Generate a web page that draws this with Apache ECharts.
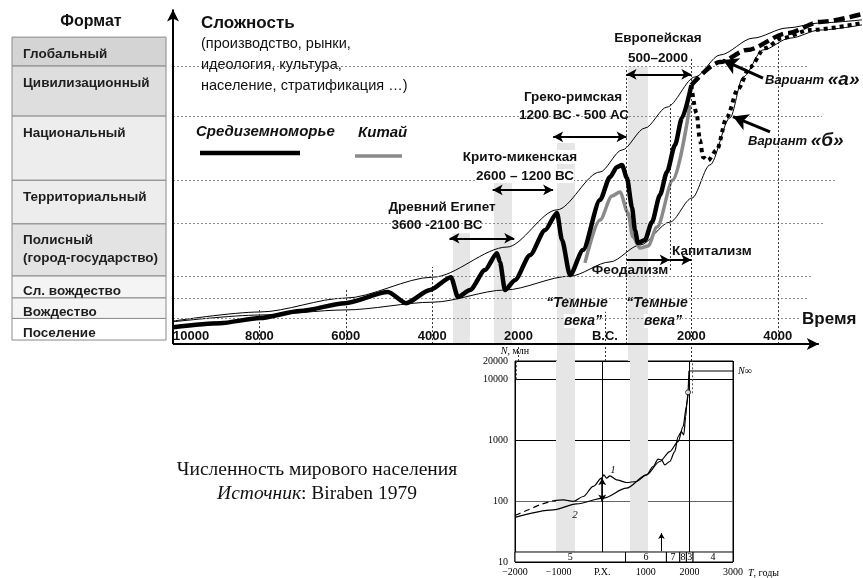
<!DOCTYPE html>
<html lang="ru">
<head>
<meta charset="utf-8">
<title>Сложность и формат</title>
<script src="https://cdn.jsdelivr.net/npm/echarts@6/dist/echarts.min.js"></script>
<style>
  html, body { margin: 0; padding: 0; background: #fff; }
  #chart { width: 863px; height: 578px; }
</style>
</head>
<body>
<div id="chart"></div>
<script>
// Формат (уровни сложности), снизу вверх
var levelNames = ['Поселение', 'Вождество', 'Сл. вождество', 'Полисный\n(город-государство)',
    'Территориальный', 'Национальный', 'Цивилизационный', 'Глобальный'];
var levelBounds = [1.2, 7.6, 13.7, 20.2, 35.6, 48.5, 67.5, 82.3, 90.8];
var levelColors = ['#ffffff', '#f4f4f4', '#f4f4f4', '#e3e3e3', '#ededed', '#ededed', '#dedede', '#d4d4d4'];
// докуда доходит пунктир уровня (год)
var levelLineEnd = [4514, 4699, 4815, 5093, 5370, 5023, 4699];

// [год (до н.э. со знаком минус), сложность]
var medData = [[-10000, 5.0], [-8913, 6.2], [-7987, 7.7], [-7061, 9.8], [-6019, 12.1], [-5024, 15.4],
    [-4607, 12.1], [-4051, 16.0], [-3565, 19.8], [-3403, 13.9], [-3125, 16.0], [-2778, 21.9],
    [-2500, 26.9], [-2431, 24.3], [-2315, 16.0], [-2084, 18.9], [-1736, 26.3], [-1389, 33.7],
    [-1111, 38.8], [-995, 30.8], [-810, 20.4], [-509, 27.8], [-116, 42.6], [116, 49.4], [278, 52.4],
    [394, 53.0], [509, 49.1], [625, 40.5], [695, 33.7], [764, 29.9], [926, 30.8], [1088, 36.1],
    [1273, 44.1], [1435, 50.9], [1621, 58.9], [1783, 66.9], [2000, 76.6]];
var chinaData = [[-463, 24.0], [-116, 36.7], [162, 43.8], [347, 45.0], [532, 38.8], [648, 31.7],
    [810, 28.4], [995, 29.0], [1204, 34.6], [1574, 48.5], [1968, 70.7]];
var upperData = [[-10000, 6.8], [-7987, 9.5], [-6019, 13.6], [-3982, 19.8], [-2269, 28.7], [-1111, 39.7],
    [-116, 50.9], [394, 57.4], [926, 63.9], [1435, 70.1], [2084, 79.0], [2662, 85.5], [3426, 90.5],
    [4213, 93.5], [4977, 95.0], [5950, 95.9]];
var lowerData = [[-10000, 6.6], [-7987, 8.6], [-6019, 10.1], [-3982, 12.4], [-2315, 16.0], [-810, 20.1],
    [116, 24.3], [810, 29.3], [1505, 36.1], [2014, 43.2], [2431, 53.0], [2894, 66.9], [3195, 79.0],
    [3657, 87.0], [4283, 90.5], [4977, 92.9], [5950, 94.4]];
var variantA = [[2000, 76.6], [2662, 83.4], [3287, 87.0], [4213, 91.9], [4977, 95.3], [5950, 97.6]];
var variantB = [[2000, 76.6], [2120, 68.3], [2199, 60.3], [2269, 55.3], [2384, 54.3], [2586, 57.4],
    [2824, 67.2], [3080, 75.5], [3357, 81.9], [3700, 87.5], [4100, 90.5], [4746, 92.9], [5950, 95.0]];

// цивилизации: [начало, конец, уровень стрелки]
var eras = [[-3600, -2100, 31.3], [-2600, -1200, 45.6], [-1200, 500, 61.3], [500, 2000, 79.8]];
// формации (стрелка в одну сторону)
var formations = [[500, 1500, 24.9], [1500, 2000, 24.9]];
// переходные периоды: [от, до, низ, верх]
var bands = [[-3519, -3125, 0, 32.8], [-2570, -2153, 0, 47.9], [-1111, -695, -5, 59.5], [532, 995, -5, 82.0]];
// вертикальные пунктиры: [год, от, до]
var guides = [[-8000, 0, 10.4], [-6000, 0, 16.0], [-4000, 0, 22.8], [-2000, -5, 0], [0, -5, 9.6],
    [500, 0, 81.7], [1500, 21.9, 71.3], [2000, -5, 84.9], [4000, 0, 90.0]];
// стрелки к вариантам: [хвост, острие]
var pointers = [[[3658, 78.7], [2732, 84.0]], [[3820, 62.8], [2963, 67.3]]];

// врезка: численность населения мира, млн (Biraben 1979)
var popDashed = [[-2000, 58], [-1695, 72], [-1427, 87], [-1122, 102]];
var popCurve1 = [[-1122, 102], [-893, 105], [-664, 99], [-435, 119], [-206, 174], [-15, 238], [38, 270],
    [99, 238], [176, 260], [328, 224], [557, 202], [786, 210], [1015, 270], [1168, 370], [1283, 489],
    [1359, 477], [1435, 394], [1550, 447], [1664, 652], [1741, 1148], [1817, 1387], [1870, 1223],
    [1916, 2443], [1947, 4573], [1970, 6120]];
var popCurve2 = [[-2000, 54], [-1122, 72], [-588, 90], [23, 112], [557, 163], [1015, 270], [1321, 447],
    [1550, 652], [1741, 950], [1855, 1675], [1931, 3565], [1970, 6120]];
var popLimit = [[1970, 6120], [1990, 13700], [3000, 13700]];
var popBands = [[-1060, -624], [638, 1050]];
var epochs = [[-2000, 535, '5'], [535, 1473, '6'], [1473, 1779, '7'], [1779, 1931, '8'], [1931, 2084, '3'], [2084, 3000, '4']];

var SANS = '"Liberation Sans", Arial, sans-serif';
var SERIF = '"Liberation Serif", "Times New Roman", serif';

var chart = echarts.init(document.getElementById('chart'));

function curve(data, style, z, smooth) {
    return {
        type: 'line', xAxisIndex: 0, yAxisIndex: 0, data: data, symbol: 'none',
        smooth: smooth, smoothMonotone: 'x', clip: false, silent: true, z: z,
        lineStyle: style
    };
}
function lines(data, style, symbol, size, xi, z) {
    return {
        type: 'line', xAxisIndex: xi, yAxisIndex: xi, data: [], silent: true, z: z,
        markLine: {
            silent: true, symbol: symbol, symbolSize: size, label: { show: false },
            lineStyle: style, emphasis: { disabled: true }, data: data
        }
    };
}
function seg(a, b) { return [{ coord: a }, { coord: b }]; }
function txt(x, y, text, font, extra) {
    var st = { text: text, font: font, fill: '#111', align: 'center', verticalAlign: 'middle' };
    for (var k in extra) st[k] = extra[k];
    return { type: 'text', x: x, y: y, z: 50, silent: true, style: st };
}
var B = 'bold 13.5px ' + SANS;
var BI = 'italic bold 14px ' + SANS;

var option = {
    animation: false,
    backgroundColor: '#fff',
    grid: [
        { left: 173, right: 1, top: 6, bottom: 217, outerBoundsMode: 'none' },
        { left: 515, top: 361, width: 218, height: 201, show: true, borderColor: '#000', borderWidth: 1, outerBoundsMode: 'none' },
        { left: 12, width: 154, top: 6, bottom: 217, outerBoundsMode: 'none' }
    ],
    xAxis: [
        {
            gridIndex: 0, type: 'value', min: -10000, max: 5950, interval: 2000, z: 10,
            axisLine: { show: false }, axisTick: { show: false }, splitLine: { show: false },
            axisLabel: {
                inside: true, margin: 18, color: '#111', fontFamily: SANS, fontWeight: 'bold', fontSize: 13,
                alignMinLabel: 'left',
                formatter: function (v) {
                    if (v > 4000) return '';
                    return v === 0 ? 'B.C.' : String(Math.abs(v));
                }
            }
        },
        {
            gridIndex: 1, type: 'value', min: -2000, max: 3000, interval: 1000,
            axisLine: { show: false, onZero: false }, axisTick: { show: false },
            axisLabel: {
                margin: 5, fontFamily: SERIF, fontSize: 10, color: '#000',
                formatter: function (v) { return v < 0 ? '\u2212' + (-v) : (v === 0 ? 'Р.Х.' : String(v)); }
            },
            splitLine: { show: true, lineStyle: { color: ['#000', '#777', '#000', '#777', '#000', '#000'], width: 1 } },
            name: '{i|T}, годы', nameLocation: 'end', nameGap: 15,
            nameTextStyle: {
                fontFamily: SERIF, fontSize: 10, color: '#000', verticalAlign: 'top', padding: [6, 0, 0, 0],
                rich: { i: { fontFamily: SERIF, fontSize: 10, fontStyle: 'italic' } }
            }
        },
        { gridIndex: 2, type: 'value', min: 0, max: 1, show: false }
    ],
    yAxis: [
        { gridIndex: 0, type: 'value', min: -5, max: 100, show: false },
        {
            gridIndex: 1, type: 'log', logBase: 10, min: 10, max: 20000,
            axisLine: { show: false, onZero: false }, axisTick: { show: false },
            axisLabel: {
                margin: 7, fontFamily: SERIF, fontSize: 10, color: '#000',
                formatter: function (v) { return String(Math.round(v)); }
            },
            splitLine: { show: true, lineStyle: { color: ['#000', '#666', '#000', '#000', '#000'], width: 1 } },
            name: '{i|N}, млн', nameLocation: 'end', nameGap: 3,
            nameTextStyle: {
                fontFamily: SERIF, fontSize: 10, color: '#000',
                rich: { i: { fontFamily: SERIF, fontSize: 10, fontStyle: 'italic' } }
            }
        },
        { gridIndex: 2, type: 'value', min: -5, max: 100, show: false }
    ],
    series: [
        // переходные периоды
        {
            type: 'line', xAxisIndex: 0, yAxisIndex: 0, data: [], silent: true, z: 1,
            markArea: {
                silent: true, itemStyle: { color: '#e6e6e6' }, label: { show: false },
                data: bands.map(function (b) { return [{ coord: [b[0], b[2]] }, { coord: [b[1], b[3]] }]; })
            }
        },
        lines(levelLineEnd.map(function (e, i) { return seg([-10000, levelBounds[i + 1]], [e, levelBounds[i + 1]]); }),
            { color: '#8c8c8c', type: [2, 2], width: 1 }, ['none', 'none'], 0, 0, 2),
        lines(guides.map(function (g) { return seg([g[0], g[1]], [g[0], g[2]]); }),
            { color: '#333', type: [2, 2], width: 1 }, ['none', 'none'], 0, 0, 2),
        curve(upperData, { color: '#000', width: 1 }, 3, 0.3),
        curve(lowerData, { color: '#000', width: 1 }, 3, 0.3),
        curve(chinaData, { color: '#8a8a8a', width: 3.5 }, 4, 0.3),
        curve(medData, { color: '#000', width: 4.5, join: 'round' }, 5, 0.25),
        curve(variantA, { color: '#000', width: 4.5, type: [11, 5] }, 5, 0.3),
        curve(variantB, { color: '#000', width: 4, type: [4, 4] }, 5, 0.3),
        lines(eras.map(function (p) { return seg([p[0], p[2]], [p[1], p[2]]); }),
            { color: '#000', type: 'solid', width: 2 }, ['arrow', 'arrow'], [8, 10], 0, 6),
        lines(formations.map(function (p) { return seg([p[0], p[2]], [p[1], p[2]]); }),
            { color: '#000', type: 'solid', width: 2 }, ['none', 'arrow'], [8, 10], 0, 6),
        lines(pointers.map(function (p) { return seg(p[0], p[1]); }),
            { color: '#000', type: 'solid', width: 3 }, ['none', 'arrow'], [13, 15], 0, 6),
        // оси
        lines([seg([-10000, 0], [4950, 0]), seg([-10000, 0], [-10000, 99])],
            { color: '#000', type: 'solid', width: 2 }, ['none', 'arrow'], [9, 12], 0, 7),

        // врезка
        {
            type: 'line', xAxisIndex: 1, yAxisIndex: 1, data: [], silent: true, z: 1,
            markArea: {
                silent: true, itemStyle: { color: '#e6e6e6' }, label: { show: false },
                data: popBands.map(function (b) { return [{ coord: [b[0], 14.6] }, { coord: [b[1], 20000] }]; })
            }
        },
        {
            type: 'line', xAxisIndex: 1, yAxisIndex: 1, data: [], silent: true, z: 6,
            markArea: {
                silent: true, itemStyle: { color: '#fff', borderColor: '#000', borderWidth: 1 },
                label: { show: true, position: 'inside', fontFamily: SERIF, fontSize: 10, color: '#000' },
                data: epochs.map(function (e) { return [{ coord: [e[0], 10], name: e[2] }, { coord: [e[1], 14.6] }]; })
            }
        },
        {
            type: 'line', xAxisIndex: 1, yAxisIndex: 1, data: popDashed, symbol: 'none', smooth: 0.3,
            silent: true, z: 4, lineStyle: { color: '#000', width: 1.2, type: [6, 4] }
        },
        {
            type: 'line', xAxisIndex: 1, yAxisIndex: 1, data: popCurve2, symbol: 'none', smooth: 0.3,
            smoothMonotone: 'x', silent: true, z: 4, lineStyle: { color: '#000', width: 1.2 }
        },
        {
            type: 'line', xAxisIndex: 1, yAxisIndex: 1, data: popCurve1, symbol: 'none', smooth: 0.3,
            smoothMonotone: 'x', silent: true, z: 4, lineStyle: { color: '#000', width: 1.2 }
        },
        {
            type: 'line', xAxisIndex: 1, yAxisIndex: 1, data: popLimit, symbol: 'none', silent: true, z: 4,
            lineStyle: { color: '#000', width: 1.2 },
            endLabel: {
                show: true, distance: 5, formatter: '{i|N}\u221E', color: '#000', fontFamily: SERIF, fontSize: 10,
                rich: { i: { fontFamily: SERIF, fontSize: 10, fontStyle: 'italic' } }
            }
        },
        {
            type: 'scatter', xAxisIndex: 1, yAxisIndex: 1, data: [[1970, 6120]], symbolSize: 5, silent: true, z: 6,
            itemStyle: { color: '#fff', borderColor: '#000', borderWidth: 1 }
        },
        lines([seg([0, 99], [0, 238])], { color: '#000', type: 'solid', width: 1.5 }, ['arrow', 'arrow'], [6, 7], 1, 5),
        lines([seg([1359, 15], [1359, 30])], { color: '#000', type: 'solid', width: 1 }, ['none', 'arrow'], [5, 6], 1, 5),
        lines([seg([-1961, 10000], [-1961, 20000]), seg([2076, 5900], [2076, 20000])],
            { color: '#555', type: [2, 2], width: 1 }, ['none', 'none'], 0, 1, 5),

        // таблица "Формат"
        {
            type: 'custom', xAxisIndex: 2, yAxisIndex: 2, silent: true, z: 2,
            data: levelNames.map(function (n, i) { return [0, levelBounds[i], levelBounds[i + 1], i]; }),
            renderItem: function (params, api) {
                var i = api.value(3);
                var tl = api.coord([0, api.value(2)]);
                var br = api.coord([1, api.value(1)]);
                var h = br[1] - tl[1];
                var name = levelNames[i];
                var ty = name.indexOf('\n') >= 0 ? tl[1] + 8 : Math.min(tl[1] + h / 2 - 5, tl[1] + 8);
                return {
                    type: 'group',
                    children: [
                        { type: 'rect', shape: { x: tl[0], y: tl[1], width: br[0] - tl[0], height: h },
                          style: { fill: levelColors[i], stroke: '#8a8a8a', lineWidth: 1 } },
                        { type: 'text', style: { text: name, x: tl[0] + 11, y: ty, font: B, fill: '#1e1e1e',
                          lineHeight: 18, verticalAlign: 'top' } }
                    ]
                };
            }
        }
    ],
    graphic: [
        txt(91, 22, 'Формат', 'bold 16px ' + SANS),
        txt(201, 23, 'Сложность', 'bold 17px ' + SANS, { align: 'left' }),
        txt(201, 65, '(производство, рынки,\nидеология, культура,\nнаселение, стратификация …)', '14.5px ' + SANS,
            { align: 'left', lineHeight: 21 }),
        txt(196, 132, 'Средиземноморье', 'italic bold 15px ' + SANS, { align: 'left' }),
        txt(358, 133, 'Китай', 'italic bold 15px ' + SANS, { align: 'left' }),
        { type: 'line', z: 50, silent: true, shape: { x1: 200, y1: 153, x2: 300, y2: 153 }, style: { stroke: '#000', lineWidth: 4.5 } },
        { type: 'line', z: 50, silent: true, shape: { x1: 355, y1: 156, x2: 402, y2: 156 }, style: { stroke: '#8a8a8a', lineWidth: 3.5 } },
        txt(442, 207, 'Древний Египет', B),
        txt(437, 225, '3600 -2100 ВС', B),
        txt(520, 157, 'Крито-микенская', B, { backgroundColor: '#fff' }),
        txt(525, 176, '2600 – 1200 ВС', B, { backgroundColor: '#fff' }),
        txt(573, 97, 'Греко-римская', B),
        txt(574, 115, '1200 ВС - 500 АС', B),
        txt(658, 38, 'Европейская', B),
        txt(658, 58, '500–2000', B),
        txt(630, 270, 'Феодализм', B),
        txt(672, 251, 'Капитализм', B, { align: 'left' }),
        txt(577, 303, '“Темные', BI),
        txt(583, 321, 'века”', BI, { backgroundColor: '#fff' }),
        txt(657, 303, '“Темные', BI),
        txt(663, 321, 'века”', BI, { backgroundColor: '#fff' }),
        txt(765, 80, '{a|Вариант }{b|«а»}', BI, { align: 'left',
            rich: { a: { font: 'italic bold 13px ' + SANS, fill: '#111' }, b: { font: 'italic bold 19px ' + SANS, fill: '#111' } } }),
        txt(748, 141, '{a|Вариант }{b|«б»}', BI, { align: 'left',
            rich: { a: { font: 'italic bold 13px ' + SANS, fill: '#111' }, b: { font: 'italic bold 19px ' + SANS, fill: '#111' } } }),
        txt(802, 319, 'Время', 'bold 17px ' + SANS, { align: 'left' }),
        txt(317, 470, 'Численность мирового населения', '19.5px ' + SERIF),
        txt(317, 494, '{i|Источник}: Biraben 1979', '19.5px ' + SERIF,
            { rich: { i: { font: 'italic 19.5px ' + SERIF, fill: '#111' } } }),
        txt(613, 470, '1', 'italic 11px ' + SERIF),
        txt(575, 515, '2', 'italic 11px ' + SERIF)
    ]
};

chart.setOption(option);
</script>
</body>
</html>
